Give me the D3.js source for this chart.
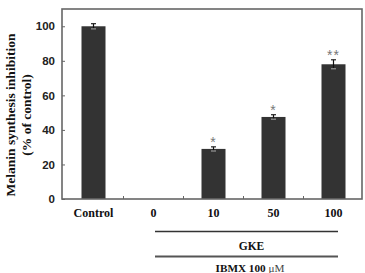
<!DOCTYPE html>
<html><head><meta charset="utf-8">
<script src="https://cdn.jsdelivr.net/npm/d3@7"></script>
<style>body{margin:0;background:#fff}svg{display:block}</style>
</head><body>
<script>
const categories = ["Control", "0", "10", "50", "100"];
const values = [100, 0, 29, 47.5, 78];
const errors = [1.5, 0, 1.2, 1.3, 2.6];
const marks = ["", "", "*", "*", "**"];
const yTicks = [0, 20, 40, 60, 80, 100];
const groupLabel = "GKE";

(function () {
const W = 365, H = 273;
const svg = d3.select("body").append("svg").attr("width", W).attr("height", H);
const pL = 62, pR = 362, pT = 9, pB = 199;

const x = d3.scaleBand().domain(categories).range([63.5, 363.5]).paddingInner(0.6).paddingOuter(0.3);
const y = d3.scaleLinear().domain([0, 110]).range([pB, pT]);

// bars
svg.selectAll("rect.bar").data(categories).enter().append("rect")
  .attr("x", d => x(d)).attr("width", x.bandwidth())
  .attr("y", (d, i) => y(values[i])).attr("height", (d, i) => y(0) - y(values[i]))
  .attr("fill", "#333");

// error bars
const eb = svg.append("g").attr("stroke", "#222").attr("stroke-width", 1.2);
categories.forEach((c, i) => {
  if (!errors[i]) return;
  const cx = x(c) + x.bandwidth() / 2;
  eb.append("line").attr("x1", cx).attr("x2", cx).attr("y1", y(values[i] + errors[i])).attr("y2", y(values[i] - errors[i])).attr("stroke", "#111");
  eb.append("line").attr("x1", cx - 2.5).attr("x2", cx + 2.5).attr("y1", y(values[i] + errors[i])).attr("y2", y(values[i] + errors[i]));
  eb.append("line").attr("x1", cx - 2.5).attr("x2", cx + 2.5).attr("y1", y(values[i] - errors[i])).attr("y2", y(values[i] - errors[i])).attr("stroke", "#999");
});

// significance marks
categories.forEach((c, i) => {
  if (!marks[i]) return;
  svg.append("text").attr("x", x(c) + x.bandwidth() / 2).attr("y", y(values[i] + errors[i]) + 0.5)
    .attr("text-anchor", "middle").attr("font-family", "Liberation Sans, Arial").attr("font-size", 14)
    .attr("letter-spacing", 1).attr("fill", "#777").text(marks[i]);
});

// frame
svg.append("rect").attr("x", pL).attr("y", pT).attr("width", pR - pL).attr("height", pB - pT)
  .attr("fill", "none").attr("stroke", "#666").attr("stroke-width", 1.6);

// y axis
const yAxis = d3.axisLeft(y).tickValues(yTicks).tickSize(-3).tickPadding(7);
const gy = svg.append("g").attr("transform", `translate(${pL},0)`).call(yAxis);
gy.select(".domain").remove();
gy.selectAll(".tick line").attr("stroke", "#666");
gy.selectAll("text").attr("font-family", "Liberation Sans, Arial").attr("font-weight", "bold")
  .attr("font-size", 11.5).attr("fill", "#222");

// x axis category boundary ticks
const boundaries = categories.slice(1).map(c => x(c) - x.step() * x.paddingInner() / 2);
svg.selectAll("line.xt").data(boundaries).enter().append("line")
  .attr("x1", d => d).attr("x2", d => d).attr("y1", pB).attr("y2", pB - 3).attr("stroke", "#666");

// x labels
svg.selectAll("text.xl").data(categories).enter().append("text")
  .attr("x", d => x(d) + x.bandwidth() / 2).attr("y", 217).attr("text-anchor", "middle")
  .attr("font-family", "Liberation Serif, Times New Roman").attr("font-weight", "bold").attr("font-size", 12)
  .attr("fill", "#111").text(d => d);

// group lines
svg.append("line").attr("x1", 155).attr("x2", 338).attr("y1", 231.5).attr("y2", 231.5).attr("stroke", "#333").attr("stroke-width", 1.3);
svg.append("text").attr("x", 251.5).attr("y", 249.5).attr("text-anchor", "middle")
  .attr("font-family", "Liberation Serif, Times New Roman").attr("font-weight", "bold").attr("font-size", 11.5)
  .attr("fill", "#111").text(groupLabel);
svg.append("line").attr("x1", 155).attr("x2", 338).attr("y1", 256.5).attr("y2", 256.5).attr("stroke", "#555").attr("stroke-width", 2);
const t = svg.append("text").attr("x", 250).attr("y", 272).attr("text-anchor", "middle")
  .attr("font-family", "Liberation Serif, Times New Roman").attr("font-size", 11.2).attr("fill", "#111");
t.append("tspan").attr("font-weight", "bold").text("IBMX 100 ");
t.append("tspan").attr("fill", "#444").text("μM");

// y title
const yt = svg.append("text").attr("transform", "translate(14.5,115) rotate(-90)").attr("text-anchor", "middle")
  .attr("font-family", "Liberation Serif, Times New Roman").attr("font-weight", "bold").attr("font-size", 13.5)
  .attr("fill", "#111");
yt.append("tspan").attr("x", 0).attr("y", 0).text("Melanin synthesis inhibition");
yt.append("tspan").attr("x", 0).attr("y", 16.5).text("(% of control)");
})();
</script>
</body></html>
